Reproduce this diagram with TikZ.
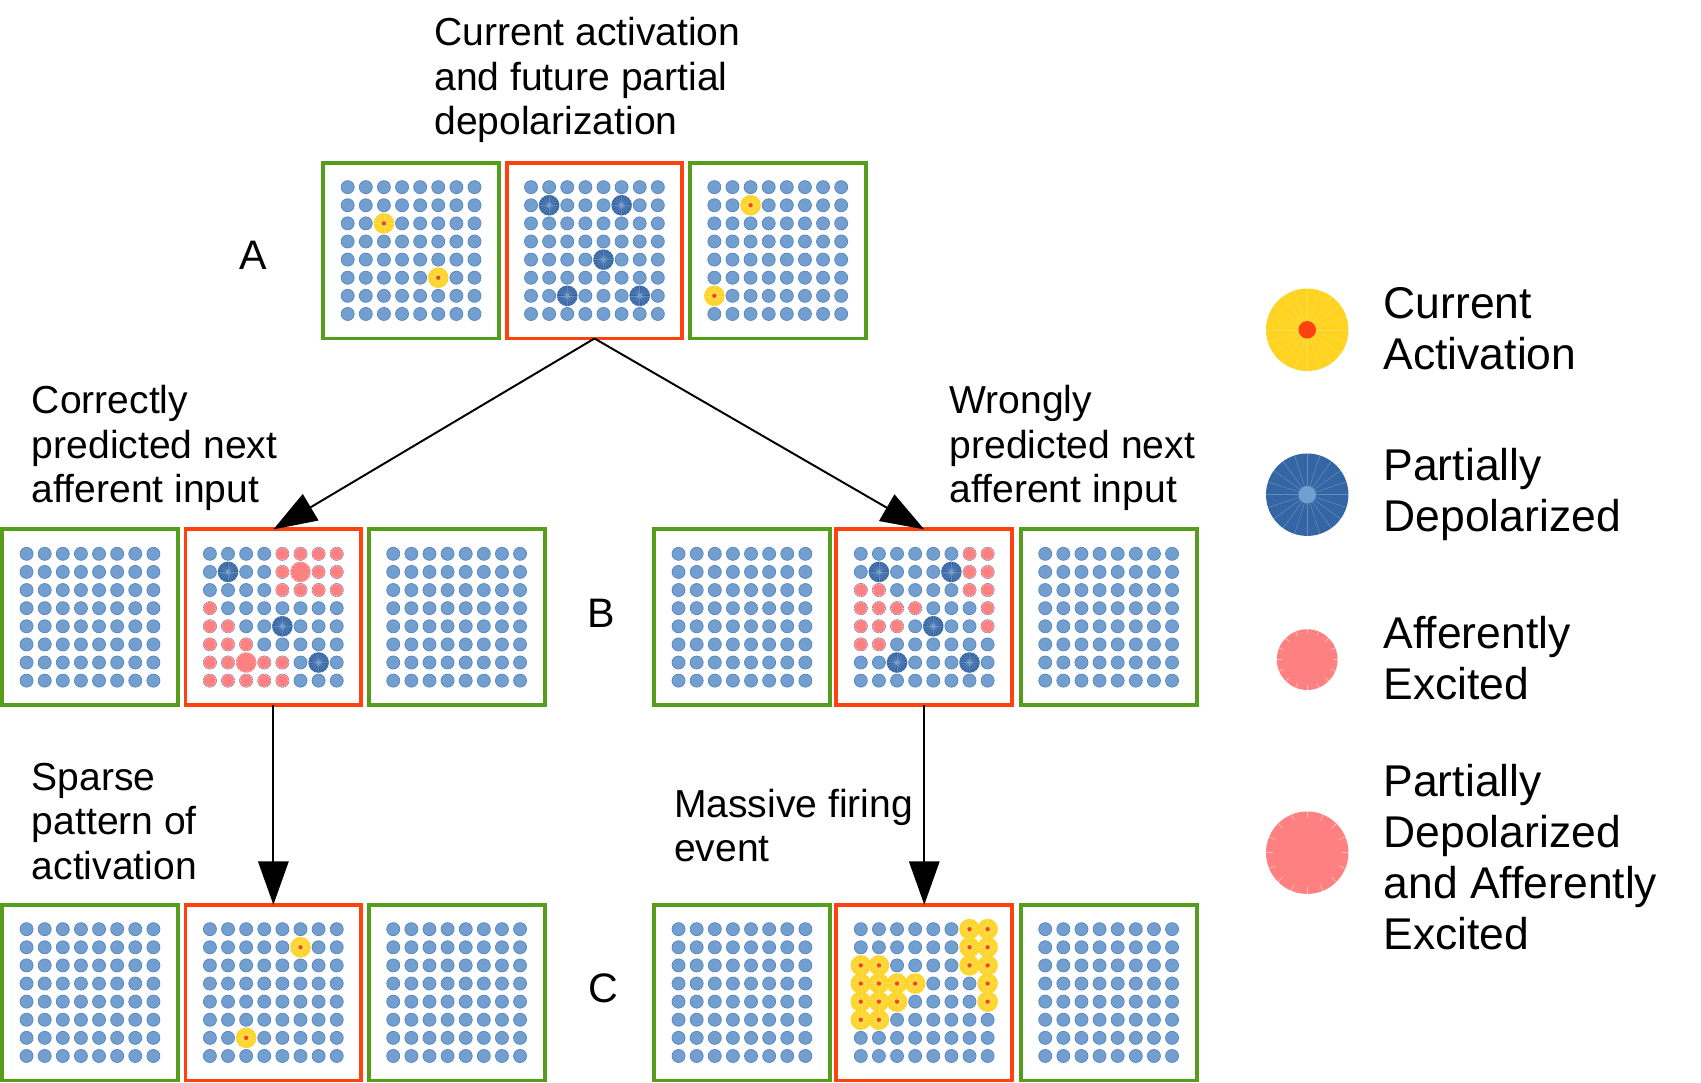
\documentclass[tikz,border=0pt]{standalone}
\usepackage{fontspec}
\setmainfont{Liberation Sans}
\usetikzlibrary{arrows.meta}

\definecolor{cellblue}{HTML}{729FCF}
\definecolor{cellrim}{HTML}{5A87BE}
\definecolor{deepblue}{HTML}{3465A4}
\definecolor{firegold}{HTML}{FFD320}
\definecolor{firered}{HTML}{FF420E}
\definecolor{boxgreen}{HTML}{579D1C}
\definecolor{boxred}{HTML}{FF420E}
\definecolor{excpink}{HTML}{FF8080}

\tikzset{
  layer/.style={draw=boxgreen, line width=1.8pt, minimum size=81pt, inner sep=0pt, outer sep=0pt},
  active/.style={layer, draw=boxred},
  caption/.style={anchor=west, align=left, inner sep=0pt, font=\fontsize{18}{20.5}\selectfont},
  keytext/.style={anchor=west, align=left, inner sep=0pt, font=\fontsize{20.5}{23.5}\selectfont},
  tag/.style={inner sep=0pt, font=\fontsize{19}{20}\selectfont},
  feed/.style={line width=0.9pt, -{Triangle[length=20pt,width=14pt]}},
  pics/cell/.style={code={\fill[cellblue, draw=cellrim, line width=0.35pt] (0,0) circle (3pt);}},
  pics/excited/.style={code={
    \fill[excpink] (0,0) circle (#1);
    \foreach \a in {0,22.5,...,337.5}
      \draw[white, opacity=.5, line width=.3pt] (\a:#1) -- ++(\a+180:#1/6);}},
  pics/firing/.style={code={
    \fill[firegold] (0,0) circle (#1);
    \foreach \a in {0,18,...,342}
      \draw[white, opacity=.25, line width=.25pt] (0,0) -- (\a:#1);
    \fill[firered] (0,0) circle (#1/4.7);}},
  pics/depol/.style={code={
    \fill[deepblue] (0,0) circle (#1);
    \foreach \a in {0,18,...,342}
      \draw[white, opacity=.25, line width=.25pt] (0,0) -- (\a:#1);
    \fill[cellblue] (0,0) circle (#1/4.7);}},
  pics/bothpink/.style={code={
    \fill[excpink] (0,0) circle (#1);
    \foreach \a in {0,22.5,...,337.5}
      \draw[white, opacity=.5, line width=.3pt] (\a:#1) -- ++(\a+180:#1/6);}}
}

% 8x8 grid of resting cells in a layer
\newcommand\layergrid[1]{%
  \begin{scope}[shift={(#1.north west)}]
    \foreach \i in {1,...,8}
      \foreach \j in {1,...,8}
        \pic at (5.8+16.7*\i, 5.8+16.7*\j) {cell};
  \end{scope}}
% cells of one kind, given as column/row
\newcommand\layercells[3]{%
  \begin{scope}[shift={(#1.north west)}]
    \foreach \i/\j in {#3}
      \pic at (5.8+16.7*\i, 5.8+16.7*\j) {#2};
  \end{scope}}

\begin{document}
\begin{tikzpicture}[x=0.5pt, y=-0.5pt]
  \useasboundingbox (0,0) rectangle (1568,998.3);

  % layers
  \node[layer]  (a1) at (379,231) {};
  \node[active] (a2) at (548,231) {};
  \node[layer]  (a3) at (717,231) {};
  \node[layer]  (bl1) at (83,569) {};
  \node[active] (bl2) at (252,569) {};
  \node[layer]  (bl3) at (421,569) {};
  \node[layer]  (br1) at (684,569) {};
  \node[active] (br2) at (852,569) {};
  \node[layer]  (br3) at (1022,569) {};
  \node[layer]  (cl1) at (83,915) {};
  \node[active] (cl2) at (252,915) {};
  \node[layer]  (cl3) at (421,915) {};
  \node[layer]  (cr1) at (684,915) {};
  \node[active] (cr2) at (852,915) {};
  \node[layer]  (cr3) at (1022,915) {};

  \foreach \b in {a1,a2,a3,bl1,bl2,bl3,br1,br2,br3,cl1,cl2,cl3,cr1,cr2,cr3}
    \layergrid{\b};

  % A
  \layercells{a1}{firing=4.75pt}{3/3,6/6}
  \layercells{a2}{depol=4.75pt}{2/2,6/2,5/5,3/7,7/7}
  \layercells{a3}{firing=4.75pt}{3/2,1/7}

  % B, correct prediction
  \layercells{bl2}{excited=3pt}{5/1,6/1,7/1,8/1,5/2,7/2,8/2,5/3,6/3,7/3,8/3,1/4,1/5,2/5,1/6,2/6,3/6,1/7,2/7,4/7,5/7,1/8,2/8,3/8,4/8,5/8}
  \layercells{bl2}{depol=4.75pt}{2/2,5/5,7/7}
  \layercells{bl2}{bothpink=4.75pt}{6/2,3/7}

  % B, wrong prediction
  \layercells{br2}{excited=3pt}{7/1,8/1,7/2,8/2,1/3,2/3,7/3,8/3,1/4,2/4,3/4,4/4,8/4,1/5,2/5,3/5,8/5,1/6,2/6}
  \layercells{br2}{depol=4.75pt}{2/2,6/2,5/5,3/7,7/7}

  % C
  \layercells{cl2}{firing=4.75pt}{6/2,3/7}
  \layercells{cr2}{firing=4.75pt}{7/1,8/1,7/2,8/2,1/3,2/3,7/3,8/3,1/4,2/4,3/4,4/4,8/4,1/5,2/5,3/5,8/5,1/6,2/6}

  % arrows
  \draw[feed] (a2.south) -- (bl2.north);
  \draw[feed] (a2.south) -- (br2.north);
  \draw[feed] (bl2.south) -- (cl2.north);
  \draw[feed] (br2.south) -- (cr2.north);

  % labels
  \node[caption] (tcur) at (400,74) {Current activation\\and future partial\\depolarization};
  \node[caption] (tok) at (29,413) {Correctly\\predicted next\\afferent input};
  \node[caption] (tbad) at (875,413) {Wrongly\\predicted next\\afferent input};
  \node[caption] (tsparse) at (29,757) {Sparse\\pattern of\\activation};
  \node[caption] (tburst) at (621,761) {Massive firing\\event};
  \node[tag] (la) at (233,235) {A};
  \node[tag] (lb) at (554,565) {B};
  \node[tag] (lc) at (556,911) {C};

  % legend
  \pic at (1205,304) {firing=19pt};
  \pic at (1205,456) {depol=19pt};
  \pic at (1205,608) {excited=14pt};
  \pic at (1205,786) {bothpink=19pt};
  \node[keytext] (kfire) at (1275,303) {Current\\Activation};
  \node[keytext] (kdepol) at (1275,456) {Partially\\Depolarized};
  \node[keytext] (kexc) at (1275,607) {Afferently\\Excited};
  \node[keytext] (kboth) at (1275,790) {Partially\\Depolarized\\and Afferently\\Excited};
\end{tikzpicture}
\end{document}
